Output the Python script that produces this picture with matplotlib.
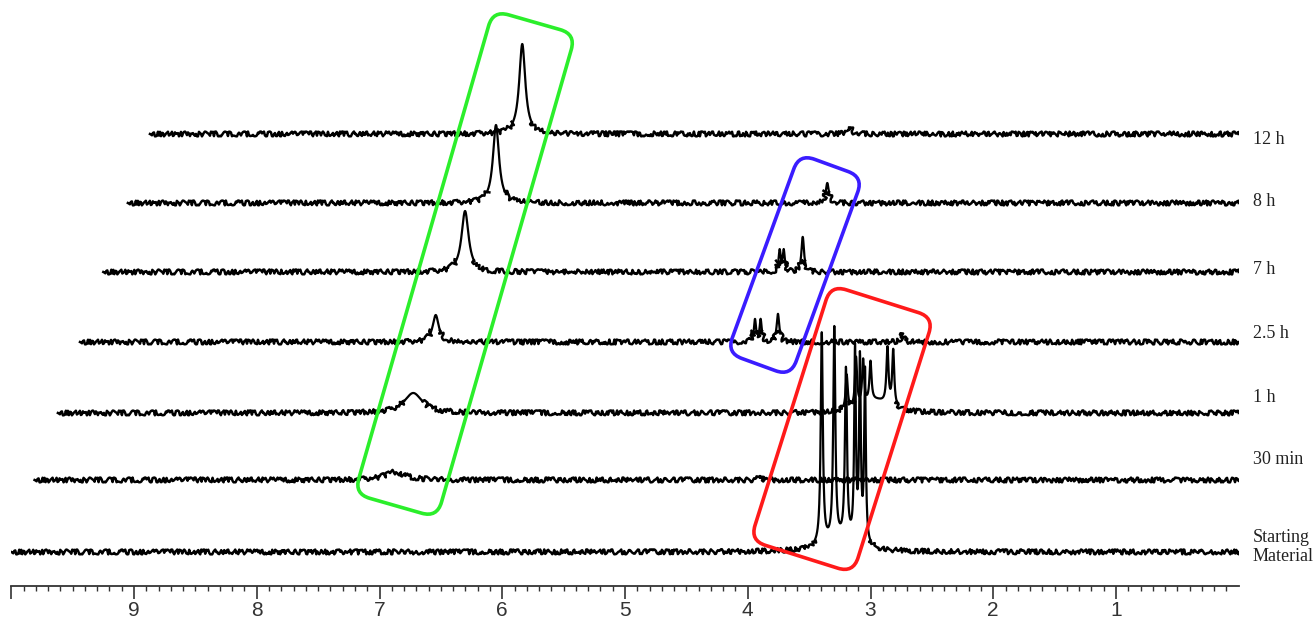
import numpy as np
import matplotlib
matplotlib.use("Agg")
import matplotlib.pyplot as plt
from matplotlib.patches import FancyBboxPatch
from matplotlib.transforms import Affine2D

# stacked 1H NMR traces, bottom to top
labels = ["Starting\nMaterial", "30 min", "1 h", "2.5 h", "7 h", "8 h", "12 h"]
baselines = [34, 106, 173, 244, 314, 383, 452]          # vertical offset of each trace
start_ppm = [10.0, 9.81, 9.62, 9.44, 9.25, 9.05, 8.87]   # left end of each trace

# peaks per trace: (ppm, height, fwhm)
sm_peaks = [(3.397, 212, 0.02), (3.295, 212, 0.02), (3.200, 170, 0.02),
            (3.126, 190, 0.016), (3.086, 180, 0.016), (3.045, 172, 0.016),
            (3.25, 10, 0.35)]
min30_peaks = [(6.874, 8, 0.20), (3.90, 4, 0.03)]
h1_peaks = [(6.725, 20, 0.18), (3.194, 35, 0.02), (3.118, 50, 0.02),
            (3.060, 45, 0.02), (3.000, 40, 0.02), (2.862, 56, 0.02),
            (2.815, 56, 0.02), (2.95, 12, 0.25)]
h25_peaks = [(6.542, 27, 0.06), (3.941, 22, 0.02), (3.895, 22, 0.02),
             (3.754, 28, 0.025), (2.743, 7, 0.03)]
h7_peaks = [(6.303, 61, 0.07), (3.740, 21, 0.02), (3.707, 21, 0.02),
            (3.552, 35, 0.025)]
h8_peaks = [(6.051, 78, 0.06), (3.352, 20, 0.03)]
h12_peaks = [(5.837, 90, 0.06), (3.17, 7, 0.04)]
all_peaks = [sm_peaks, min30_peaks, h1_peaks, h25_peaks, h7_peaks, h8_peaks, h12_peaks]

# highlight boxes: (centre ppm, centre y, width px, height px, tilt deg, colour)
boxes = [(6.303, 322, 86, 503, 16, "#2bee2b"),
         (3.615, 321, 68, 212, 20, "#3a1cff"),
         (3.232, 157, 108, 268, 17.5, "#ff1a1a")]

label_y = [39, 127, 188, 252, 317, 385, 447]


def spectrum(x, peaks):
    y = np.zeros_like(x)
    for pos, h, fwhm in peaks:
        g = fwhm / 2
        y += h * g**2 / ((x - pos)**2 + g**2)
    return y


fig = plt.figure(figsize=(13.16, 6.31), dpi=100)
ax = fig.add_axes([11.25 / 1316, 45 / 631, (1238.75 - 11.25) / 1316, 586 / 631])
ax.set_xlim(10.0, 0.0)
ax.set_ylim(0, 586)

for i, peaks in enumerate(all_peaks):
    x = np.linspace(start_ppm[i], 0.0, 7000)
    s = spectrum(x, peaks)
    y = baselines[i] + s
    # tall signal parts drawn clean, flat parts drawn with a noisy sketch
    tall = s > 12
    grow = np.convolve(tall, np.ones(9), mode="same") > 0
    y_peak = np.where(grow, y, np.nan)
    y_base = np.where(tall, np.nan, y)
    ax.plot(x, y_peak, color="black", lw=1.6, solid_joinstyle="round")
    line, = ax.plot(x, y_base, color="black", lw=1.8, solid_joinstyle="round")
    line.set_sketch_params(2.4, 3.0, 10.0)
    ax.text(-0.113, label_y[i], labels[i], ha="left", va="center",
            fontsize=13, family="Liberation Serif", color="#222222",
            clip_on=False, linespacing=1.1)

for sp in ["left", "right", "top"]:
    ax.spines[sp].set_visible(False)
ax.spines["bottom"].set_linewidth(1.3)
ax.spines["bottom"].set_color("#333333")
ax.set_yticks([])
ax.set_xticks(np.arange(1, 11))
ax.set_xticklabels([str(v) for v in range(1, 10)] + [""])
ax.set_xticks(np.arange(0.1, 10.0, 0.1), minor=True)
ax.tick_params(axis="x", which="major", direction="out", length=9, width=1.2,
               color="#333333", pad=2, labelsize=15, labelcolor="#333333")
ax.tick_params(axis="x", which="minor", direction="out", length=3.5, width=1.0,
               color="#333333")
for lab in ax.get_xticklabels():
    lab.set_family("Liberation Sans")

fig.canvas.draw()
for ppm, yc, w, h, tilt, col in boxes:
    cx, cy = ax.transData.transform((ppm, yc))
    patch = FancyBboxPatch((-w / 2, -h / 2), w, h,
                           boxstyle="round,pad=0,rounding_size=16",
                           fill=False, edgecolor=col, lw=2.6,
                           transform=Affine2D().rotate_deg(-tilt).translate(cx, cy))
    fig.add_artist(patch)

fig.savefig("out.png", dpi=100, facecolor="white")
